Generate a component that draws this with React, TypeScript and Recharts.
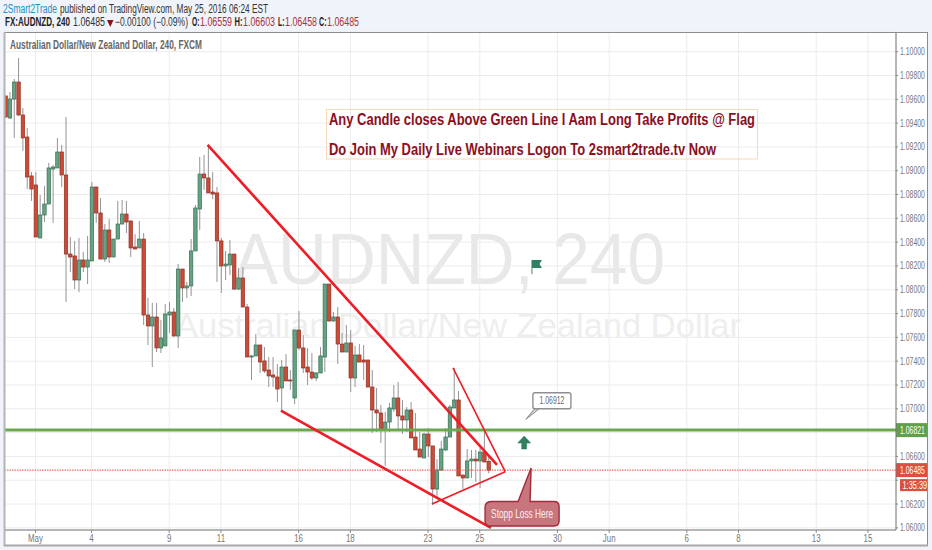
import React from 'react';
import { ComposedChart, Bar, XAxis, YAxis, CartesianGrid, ReferenceLine, ReferenceDot } from 'recharts';

const FONT = '"Liberation Sans", Arial, sans-serif';

const opens = [
  1.09628, 1.09443, 1.09602, 1.09745, 1.09468, 1.09283, 1.08956, 1.08880, 1.08435, 1.08628, 1.08720, 1.09014, 1.09023, 1.09157, 1.08964,
  1.08300, 1.08284, 1.08082, 1.08250, 1.08191, 1.08242, 1.08863, 1.08645, 1.08258, 1.08502, 1.08275, 1.08426, 1.08552, 1.08636, 1.08578,
  1.08359, 1.08351, 1.08426, 1.07788, 1.07696, 1.07771, 1.07511, 1.07528, 1.07788, 1.07813, 1.07612, 1.08174, 1.08015, 1.08032, 1.08326,
  1.08678, 1.08972, 1.08939, 1.08821, 1.08813, 1.08410, 1.08200, 1.08208, 1.08300, 1.08006, 1.08099, 1.07855, 1.07435, 1.07444, 1.07536,
  1.07402, 1.07326, 1.07284, 1.07267, 1.07175, 1.07351, 1.07242, 1.07091, 1.07662, 1.07511, 1.07351, 1.07309, 1.07259, 1.07301, 1.07435,
  1.08048, 1.07738, 1.07771, 1.07544, 1.07477, 1.07553, 1.07259, 1.07452, 1.07410, 1.07410, 1.07183, 1.06990, 1.06965, 1.06822, 1.06889,
  1.06998, 1.07091, 1.06940, 1.06906, 1.06990, 1.06763, 1.06662, 1.06587, 1.06788, 1.06688, 1.06326, 1.06486, 1.06654, 1.06763, 1.07007,
  1.07074, 1.06444, 1.06419, 1.06562, 1.06578, 1.06562, 1.06637, 1.06559,
];
const highs = [
  1.09628, 1.09661, 1.09770, 1.09947, 1.09527, 1.09359, 1.08989, 1.08989, 1.08796, 1.08872, 1.09065, 1.09048, 1.09275, 1.09216, 1.09451,
  1.08443, 1.08410, 1.08435, 1.08317, 1.08452, 1.08905, 1.08863, 1.08771, 1.08552, 1.08594, 1.08426, 1.08746, 1.08754, 1.08746, 1.08578,
  1.08468, 1.08578, 1.08477, 1.07931, 1.07889, 1.07889, 1.07746, 1.07880, 1.07897, 1.07847, 1.08216, 1.08174, 1.08065, 1.08426, 1.08712,
  1.09115, 1.09132, 1.09208, 1.08989, 1.08863, 1.08435, 1.08326, 1.08418, 1.08300, 1.08183, 1.08191, 1.07880, 1.07452, 1.07628, 1.07536,
  1.07519, 1.07435, 1.07435, 1.07376, 1.07410, 1.07460, 1.07326, 1.07662, 1.07822, 1.07620, 1.07511, 1.07469, 1.07309, 1.07519, 1.08048,
  1.08048, 1.07813, 1.07855, 1.07637, 1.07704, 1.07662, 1.07528, 1.07544, 1.07536, 1.07410, 1.07326, 1.07175, 1.07032, 1.06973, 1.07049,
  1.07200, 1.07225, 1.07074, 1.07015, 1.07057, 1.06965, 1.06805, 1.06797, 1.06839, 1.06688, 1.06578, 1.06730, 1.06839, 1.07032, 1.07343,
  1.07150, 1.06444, 1.06662, 1.06654, 1.06654, 1.06671, 1.06805, 1.06603,
];
const lows = [
  1.09443, 1.09434, 1.09275, 1.09460, 1.09166, 1.08846, 1.08746, 1.08443, 1.08435, 1.08569, 1.08720, 1.08561, 1.09023, 1.08863, 1.07897,
  1.08149, 1.08006, 1.07981, 1.08149, 1.08048, 1.08242, 1.08561, 1.08258, 1.08233, 1.08225, 1.08275, 1.08426, 1.08552, 1.08477, 1.08275,
  1.08342, 1.08351, 1.07704, 1.07536, 1.07351, 1.07477, 1.07469, 1.07528, 1.07637, 1.07603, 1.07511, 1.07897, 1.07931, 1.07948, 1.08326,
  1.08502, 1.08838, 1.08813, 1.08762, 1.08065, 1.07973, 1.08082, 1.08124, 1.07998, 1.07998, 1.07855, 1.07435, 1.07242, 1.07444, 1.07301,
  1.07301, 1.07183, 1.07183, 1.07057, 1.06990, 1.07234, 1.07158, 1.07040, 1.07494, 1.07301, 1.07200, 1.07242, 1.07234, 1.07301, 1.07309,
  1.07729, 1.07729, 1.07376, 1.07477, 1.07477, 1.07141, 1.07183, 1.07393, 1.07242, 1.07183, 1.06797, 1.06805, 1.06713, 1.06520, 1.06805,
  1.06973, 1.06822, 1.06788, 1.06805, 1.06755, 1.06654, 1.06595, 1.06587, 1.06595, 1.06192, 1.06259, 1.06478, 1.06646, 1.06763, 1.07007,
  1.06436, 1.06326, 1.06419, 1.06419, 1.06385, 1.06335, 1.06553, 1.06458,
];
const closes = [
  1.09451, 1.09602, 1.09745, 1.09468, 1.09275, 1.08947, 1.08846, 1.08443, 1.08628, 1.08720, 1.09023, 1.09031, 1.09157, 1.08964, 1.08300,
  1.08275, 1.08082, 1.08250, 1.08191, 1.08250, 1.08863, 1.08645, 1.08258, 1.08502, 1.08275, 1.08426, 1.08552, 1.08636, 1.08569, 1.08351,
  1.08342, 1.08426, 1.07788, 1.07696, 1.07771, 1.07511, 1.07595, 1.07796, 1.07813, 1.07612, 1.08174, 1.08015, 1.08032, 1.08326, 1.08687,
  1.08972, 1.08939, 1.08813, 1.08804, 1.08410, 1.08200, 1.08216, 1.08300, 1.08006, 1.08099, 1.07855, 1.07435, 1.07444, 1.07536, 1.07393,
  1.07318, 1.07276, 1.07267, 1.07166, 1.07351, 1.07234, 1.07234, 1.07662, 1.07511, 1.07343, 1.07309, 1.07259, 1.07301, 1.07444, 1.08048,
  1.07738, 1.07771, 1.07544, 1.07477, 1.07553, 1.07259, 1.07452, 1.07393, 1.07393, 1.07183, 1.06990, 1.06965, 1.06822, 1.06889, 1.07007,
  1.07091, 1.06940, 1.06906, 1.06990, 1.06755, 1.06654, 1.06595, 1.06788, 1.06688, 1.06326, 1.06486, 1.06662, 1.06763, 1.07015, 1.07074,
  1.06436, 1.06419, 1.06562, 1.06578, 1.06562, 1.06637, 1.06553, 1.06485,
];

const tickSlots = [7, 20, 38, 50, 68, 80, 98, 110, 128, 140, 158, 170, 188, 200];
const tickLabels = ['May', '4', '9', '11', '16', '18', '23', '25', '30', 'Jun', '6', '8', '13', '15'];
const priceTicks = [
  1.06, 1.062, 1.064, 1.066, 1.068, 1.07, 1.072, 1.074, 1.076, 1.078, 1.08, 1.082, 1.084, 1.086, 1.088, 1.09, 1.092, 1.094, 1.096,
  1.098, 1.1,
];
// these two labels are hidden behind the price tags, their grid lines stay
const hiddenPriceLabels = [1.064, 1.068];

const supportPrice = 1.06821;
const lastPrice = 1.06485;
const countdown = '1:35:39';
const calloutPrice = 1.06912;

// drawn trendlines, slot / price pairs
const upperChannel = [[46.9, 1.09216], [114.0, 1.06528]];
const lowerChannel = [[63.9, 1.06984], [112.6, 1.05999]];
const wedgeTop = [[103.8, 1.07343], [115.9, 1.06472]];
const wedgeBottom = [[98.9, 1.062], [115.9, 1.06472]];

const candles = opens.map((open, i) => ({
  slot: i,
  open,
  close: closes[i],
  high: highs[i],
  low: lows[i],
  range: [lows[i], highs[i]],
}));

const Candle = (props: any) => {
  const { x, y, width, height, payload } = props;
  const top = Math.min(y, y + height);
  const h = Math.abs(height);
  const k = h / (payload.high - payload.low);
  const up = payload.close >= payload.open;
  const bodyTop = top + (payload.high - Math.max(payload.open, payload.close)) * k;
  const bodyH = Math.max(Math.abs(payload.open - payload.close) * k, 1);
  const cx = x + width / 2;
  return (
    <g>
      <line x1={cx} x2={cx} y1={top} y2={top + h} stroke="#949496" strokeWidth={1} />
      <rect
        x={cx - 1.7}
        y={bodyTop}
        width={3.4}
        height={bodyH}
        fill={up ? '#66a283' : '#c94b38'}
        stroke={up ? '#356e52' : '#8f3023'}
        strokeWidth={0.7}
      />
    </g>
  );
};

// the reference is squeezed sideways, so the axis text is too
const PriceTick = ({ x, y, payload }: any) => {
  if (hiddenPriceLabels.includes(payload.value)) return <g />;
  return (
    <text transform={`translate(${x} ${y + 3.5}) scale(0.69 1)`} fontSize={10} fontFamily={FONT} fill="#777">
      {payload.value.toFixed(5)}
    </text>
  );
};

const TimeTick = ({ x, y, payload }: any) => (
  <text transform={`translate(${x} ${y + 9}) scale(0.72 1)`} textAnchor="middle" fontSize={11} fontFamily={FONT} fill="#777">
    {tickLabels[tickSlots.indexOf(payload.value)]}
  </text>
);

const PriceTag = ({ viewBox, text, fill }: any) => {
  const right = viewBox.x + viewBox.width;
  const y = viewBox.y;
  return (
    <g>
      <rect x={right} y={y - 7} width={32} height={14} fill={fill} />
      <text transform={`translate(${right + 4} ${y + 3.5}) scale(0.69 1)`} fontSize={10} fontFamily={FONT} fill="#fff">
        {text}
      </text>
    </g>
  );
};

const CountdownTag = ({ viewBox }: any) => {
  const right = viewBox.x + viewBox.width;
  const y = viewBox.y;
  return (
    <g>
      <rect x={right + 4} y={y + 9} width={28} height={12} fill="#d9503f" />
      <text transform={`translate(${right + 6.5} ${y + 18.5}) scale(0.74 1)`} fontSize={10} fontFamily={FONT} fill="#fff">
        {countdown}
      </text>
    </g>
  );
};

const Flag = ({ cx, cy }: any) => (
  <g>
    <line x1={cx} x2={cx} y1={cy} y2={cy - 14} stroke="#3f8a6c" strokeWidth={1} />
    <path d={`M${cx} ${cy - 14} h10 l-2.5 4 l2.5 4 h-10 z`} fill="#2e8060" />
  </g>
);

const UpArrow = ({ cx, cy }: any) => (
  <path
    d={`M${cx} ${cy - 13} l6.5 7 h-4 v6 h-5 v-6 h-4 z`}
    fill="#2e8060"
    stroke="#2e8060"
    strokeWidth={0.5}
  />
);

const PriceCallout = ({ cx, cy }: any) => (
  <g>
    <path d={`M${cx} ${cy} L${cx + 9} ${cy - 11} L${cx + 14} ${cy - 11} z`} fill="#d5d5d5" stroke="#8a8a8a" strokeWidth={1} />
    <rect x={cx + 7} y={cy - 26.5} width={38} height={16} rx={2} fill="#fff" stroke="#8f8f8f" strokeWidth={1.4} />
    <text transform={`translate(${cx + 26} ${cy - 15}) scale(0.69 1)`} textAnchor="middle" fontSize={10} fontFamily={FONT} fill="#666">
      {calloutPrice.toFixed(5)}
    </text>
  </g>
);

const StopCallout = ({ cx, cy }: any) => (
  <g>
    <path
      d={`M${cx - 40} ${cy + 33.5} H${cx - 13} L${cx} ${cy} L${cx - 1} ${cy + 33.5} H${cx + 23} q5 0 5 5 V${cy + 53} q0 5 -5 5 H${cx - 41} q-5 0 -5 -5 V${cy + 39} q0 -5 6 -5.5 z`}
      fill="#c8767e"
      stroke="#a32a38"
      strokeWidth={1.4}
    />
    <text x={cx - 9} y={cy + 50} textAnchor="middle" fontSize={12} fontFamily={FONT} fill="#fdeeee" textLength={62} lengthAdjust="spacingAndGlyphs">
      Stopp Loss Here
    </text>
  </g>
);

const segment = (pair: number[][]) => pair.map(([x, y]) => ({ x, y }));

const App = () => (
  <div style={{ position: 'absolute', left: 0, top: 0, width: 932, height: 550, overflow: 'hidden', background: '#f0f3fa' }}>
    {/* pane and watermark sit under the chart */}
    <svg width={932} height={550} style={{ position: 'absolute', left: 0, top: 0 }}>
      <rect x={4} y={32} width={924} height={514} fill="#fff" />
      <text x={233} y={284} fontSize={73} fontFamily={FONT} fill="#e8e8e8" textLength={432} lengthAdjust="spacingAndGlyphs">
        AUDNZD, 240
      </text>
      <text x={175} y={337} fontSize={34} fontFamily={FONT} fill="#eeeeee" textLength={566} lengthAdjust="spacingAndGlyphs">
        Australian Dollar/New Zealand Dollar
      </text>
    </svg>

    <div style={{ position: 'absolute', left: 0, top: 0 }}>
      <ComposedChart width={932} height={550} data={candles} margin={{ top: 32, right: 4, bottom: 4, left: 4 }}>
        <CartesianGrid stroke="#ececec" strokeWidth={1} />
        <XAxis
          type="number"
          dataKey="slot"
          domain={[-0.3, 206.5]}
          ticks={tickSlots}
          interval={0}
          height={16}
          allowDataOverflow
          tick={<TimeTick />}
          tickSize={3}
          tickMargin={0}
          tickLine={{ stroke: '#888' }}
          axisLine={{ stroke: '#777', strokeWidth: 1 }}
        />
        <YAxis
          orientation="right"
          domain={[1.05982, 1.10165]}
          ticks={priceTicks}
          interval={0}
          width={32}
          allowDataOverflow
          tick={<PriceTick />}
          tickSize={2}
          tickMargin={2}
          tickLine={{ stroke: '#888' }}
          axisLine={{ stroke: '#777', strokeWidth: 1 }}
        />
        <Bar dataKey="range" barSize={3} shape={<Candle />} isAnimationActive={false} />

        <ReferenceLine
          y={lastPrice}
          stroke="#e0503c"
          strokeWidth={1}
          strokeDasharray="1.5 1"
          label={<PriceTag text={lastPrice.toFixed(5)} fill="#d9503f" />}
        />
        <ReferenceLine y={lastPrice} stroke="none" label={<CountdownTag />} />
        <ReferenceLine
          y={supportPrice}
          stroke="#6aa84f"
          strokeWidth={3}
          label={<PriceTag text={supportPrice.toFixed(5)} fill="#5fa04a" />}
        />

        <ReferenceLine segment={segment(upperChannel)} stroke="#ee1c25" strokeWidth={2.6} ifOverflow="visible" />
        <ReferenceLine segment={segment(lowerChannel)} stroke="#ee1c25" strokeWidth={2.6} ifOverflow="visible" />
        <ReferenceLine segment={segment(wedgeTop)} stroke="#ee1c25" strokeWidth={1.6} ifOverflow="visible" />
        <ReferenceLine segment={segment(wedgeBottom)} stroke="#ee1c25" strokeWidth={1.6} ifOverflow="visible" />

        <ReferenceDot x={122.1} y={1.08132} r={1} shape={<Flag />} />
        <ReferenceDot x={120.3} y={1.06662} r={1} shape={<UpArrow />} />
        <ReferenceDot x={120.7} y={calloutPrice} r={1} shape={<PriceCallout />} />
        <ReferenceDot x={121.9} y={1.06503} r={1} shape={<StopCallout />} />
      </ComposedChart>
    </div>

    {/* header, note box and pane borders */}
    <svg width={932} height={550} style={{ position: 'absolute', left: 0, top: 0, pointerEvents: 'none' }}>
      <rect x={897} y={531} width={30} height={14} fill="#fff" />
      <rect x={4.5} y={32.5} width={923} height={513} fill="none" stroke="#8c8c8c" strokeWidth={1} />
      <line x1={4.5} x2={4.5} y1={32} y2={546} stroke="#b5b5b5" strokeWidth={2} />
      <line x1={4} x2={928} y1={545.5} y2={545.5} stroke="#a8a8a8" strokeWidth={2} />

      <g fontFamily={FONT} fontSize={12}>
        <text x={3} y={13} fill="#1f8fc5" textLength={54} lengthAdjust="spacingAndGlyphs">2Smart2Trade</text>
        <text x={60} y={13} fill="#333" textLength={208} lengthAdjust="spacingAndGlyphs">published on TradingView.com, May 25, 2016 06:24 EST</text>
        <text x={5} y={26} fill="#222" fontWeight="bold" textLength={65} lengthAdjust="spacingAndGlyphs">FX:AUDNZD, 240</text>
        <text x={73} y={26} fill="#333" textLength={32} lengthAdjust="spacingAndGlyphs">1.06485</text>
        <path d="M107 20 h6.5 l-3.25 7 z" fill="#8b0d16" />
        <text x={115} y={26} fill="#333" textLength={73} lengthAdjust="spacingAndGlyphs">−0.00100 (−0.09%)</text>
        <text x={192} y={26} fill="#222" fontWeight="bold" textLength={7.5} lengthAdjust="spacingAndGlyphs">O:</text>
        <text x={200} y={26} fill="#a8323a" textLength={32} lengthAdjust="spacingAndGlyphs">1.06559</text>
        <text x={234.5} y={26} fill="#222" fontWeight="bold" textLength={8} lengthAdjust="spacingAndGlyphs">H:</text>
        <text x={243} y={26} fill="#a8323a" textLength={32} lengthAdjust="spacingAndGlyphs">1.06603</text>
        <text x={278} y={26} fill="#222" fontWeight="bold" textLength={6.5} lengthAdjust="spacingAndGlyphs">L:</text>
        <text x={285} y={26} fill="#a8323a" textLength={32} lengthAdjust="spacingAndGlyphs">1.06458</text>
        <text x={319} y={26} fill="#222" fontWeight="bold" textLength={7.5} lengthAdjust="spacingAndGlyphs">C:</text>
        <text x={327} y={26} fill="#a8323a" textLength={32} lengthAdjust="spacingAndGlyphs">1.06485</text>
        <text x={10} y={49} fill="#666" fontWeight="bold" textLength={192} lengthAdjust="spacingAndGlyphs">Australian Dollar/New Zealand Dollar, 240, FXCM</text>
      </g>

      <rect x={326.5} y={109.5} width={431} height={49.5} fill="none" stroke="#f6d9b8" strokeWidth={1} />
      <g fontFamily={FONT} fontSize={16} fontWeight="bold" fill="#8b0f1e">
        <text x={329} y={125} textLength={426} lengthAdjust="spacingAndGlyphs">Any Candle closes Above Green Line I Aam Long Take Profits @ Flag</text>
        <text x={329} y={155} textLength={387} lengthAdjust="spacingAndGlyphs">Do Join My Daily Live Webinars Logon To 2smart2trade.tv Now</text>
      </g>
    </svg>
  </div>
);

export default App;
